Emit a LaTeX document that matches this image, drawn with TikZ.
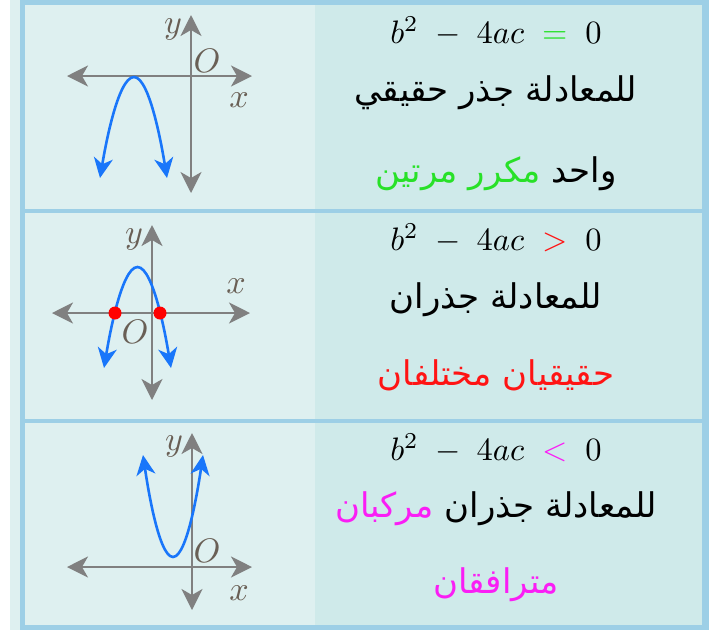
\documentclass[tikz,border=0pt]{standalone}
\usepackage{graphicx}
\usepackage{fontspec}
\usetikzlibrary{arrows.meta}
\TeXXeTstate=1
\newfontfamily\arabicfont[Script=Arabic]{DejaVu Sans}
\definecolor{bordc}{RGB}{157,207,230}
\definecolor{cellL}{RGB}{222,240,240}
\definecolor{cellR}{RGB}{207,234,234}
\definecolor{axisc}{RGB}{128,128,128}
\definecolor{curvec}{RGB}{25,118,250}
\definecolor{labc}{RGB}{105,95,85}
\definecolor{grn}{RGB}{40,225,40}
\definecolor{rd}{RGB}{255,20,20}
\definecolor{mg}{RGB}{250,30,245}
\newcommand{\axl}[1]{\scalebox{3.4}{$#1$}}
\newcommand{\fml}[1]{\scalebox{3.25}{$#1$}}
\begin{document}
\begin{tikzpicture}[x=1pt,y=-1pt,
  axisline/.style={draw=axisc, line width=2.2pt,
    {Stealth[length=21pt,width=21pt,inset=6pt]}-{Stealth[length=21pt,width=21pt,inset=6pt]}},
  curveline/.style={draw=curvec, line width=2.6pt,
    {Stealth[length=20pt,width=19pt,inset=6pt]}-{Stealth[length=20pt,width=19pt,inset=6pt]}},
  axlab/.style={text=labc, inner sep=0pt},
  formula/.style={inner sep=0pt, anchor=base},
  artext/.style={inner sep=0pt, anchor=base, font={\fontsize{34}{40}\selectfont\arabicfont}},
  rootdot/.style={circle, fill=red, inner sep=0pt, minimum size=13pt}]
\useasboundingbox (0,0) rectangle (709,630);
% table background
\fill[white] (0,0) rectangle (709,630);
\fill[cellL] (10,0) rectangle (20,630);
\fill[bordc] (20,0) rectangle (709,630);
\fill[cellL] (25,5) rectangle (315,209);
\fill[cellR] (315,5) rectangle (702,209);
\fill[cellL] (25,213) rectangle (315,419);
\fill[cellR] (315,213) rectangle (702,419);
\fill[cellL] (25,423) rectangle (315,625);
\fill[cellR] (315,423) rectangle (702,625);

% ---------- graph 1 ----------
\coordinate (g1xl) at (67,76);
\coordinate (g1xr) at (252,76);
\coordinate (g1yt) at (191,15);
\coordinate (g1yb) at (191,193);
\coordinate (g1v) at (134,77);
\coordinate (g1a) at (100,178);
\coordinate (g1b) at (167,178);
\draw[axisline] (g1xl) -- (g1xr);
\draw[axisline] (g1yt) -- (g1yb);
\draw[curveline] (g1a) parabola bend (g1v) (g1b);
\node[axlab] (g1ylab) at (173,29) {\axl{y}};
\node[axlab] (g1olab) at (207,61) {\axl{O}};
\node[axlab] (g1xlab) at (239,100) {\axl{x}};

% ---------- graph 2 ----------
\coordinate (g2xl) at (52,313);
\coordinate (g2xr) at (250,313);
\coordinate (g2yt) at (152,225);
\coordinate (g2yb) at (152,400);
\coordinate (g2v) at (137.5,267);
\coordinate (g2a) at (104,368);
\coordinate (g2b) at (171,368);
\draw[axisline] (g2xl) -- (g2xr);
\draw[axisline] (g2yt) -- (g2yb);
\draw[curveline] (g2a) parabola bend (g2v) (g2b);
\node[rootdot] (g2r1) at (115,313) {};
\node[rootdot] (g2r2) at (160,313) {};
\node[axlab] (g2ylab) at (134,239) {\axl{y}};
\node[axlab] (g2olab) at (135,332) {\axl{O}};
\node[axlab] (g2xlab) at (236,286) {\axl{x}};

% ---------- graph 3 ----------
\coordinate (g3xl) at (67,567);
\coordinate (g3xr) at (252,567);
\coordinate (g3yt) at (192,433);
\coordinate (g3yb) at (192,610);
\coordinate (g3v) at (173,557);
\coordinate (g3a) at (143,455);
\coordinate (g3b) at (203,455);
\draw[axisline] (g3xl) -- (g3xr);
\draw[axisline] (g3yt) -- (g3yb);
\draw[curveline] (g3a) parabola bend (g3v) (g3b);
\node[axlab] (g3ylab) at (174,446) {\axl{y}};
\node[axlab] (g3olab) at (207,551) {\axl{O}};
\node[axlab] (g3xlab) at (239,593) {\axl{x}};

% ---------- texts ----------
\node[formula] (f1) at (496,43) {\fml{b^2 \;-\; 4ac \;\mathrel{\textcolor{grn}{=}}\; 0}};
\node[artext] (t1a) at (496,101) {\beginR للمعادلة جذر حقيقي\endR};
\node[artext] (t1b) at (496,182) {\textcolor{grn}{\beginR مكرر مرتين\endR} \beginR واحد\endR};

\node[formula] (f2) at (496,250) {\fml{b^2 \;-\; 4ac \;\mathrel{\textcolor{rd}{>}}\; 0}};
\node[artext] (t2a) at (496,308) {\beginR للمعادلة جذران\endR};
\node[artext, text=rd] (t2b) at (496,385) {\beginR حقيقيان مختلفان\endR};

\node[formula] (f3) at (496,460) {\fml{b^2 \;-\; 4ac \;\mathrel{\textcolor{mg}{<}}\; 0}};
\node[artext] (t3a) at (496,517) {\textcolor{mg}{\beginR مركبان\endR} \beginR للمعادلة جذران\endR};
\node[artext, text=mg] (t3b) at (496,593) {\beginR مترافقان\endR};
\end{tikzpicture}
\end{document}
